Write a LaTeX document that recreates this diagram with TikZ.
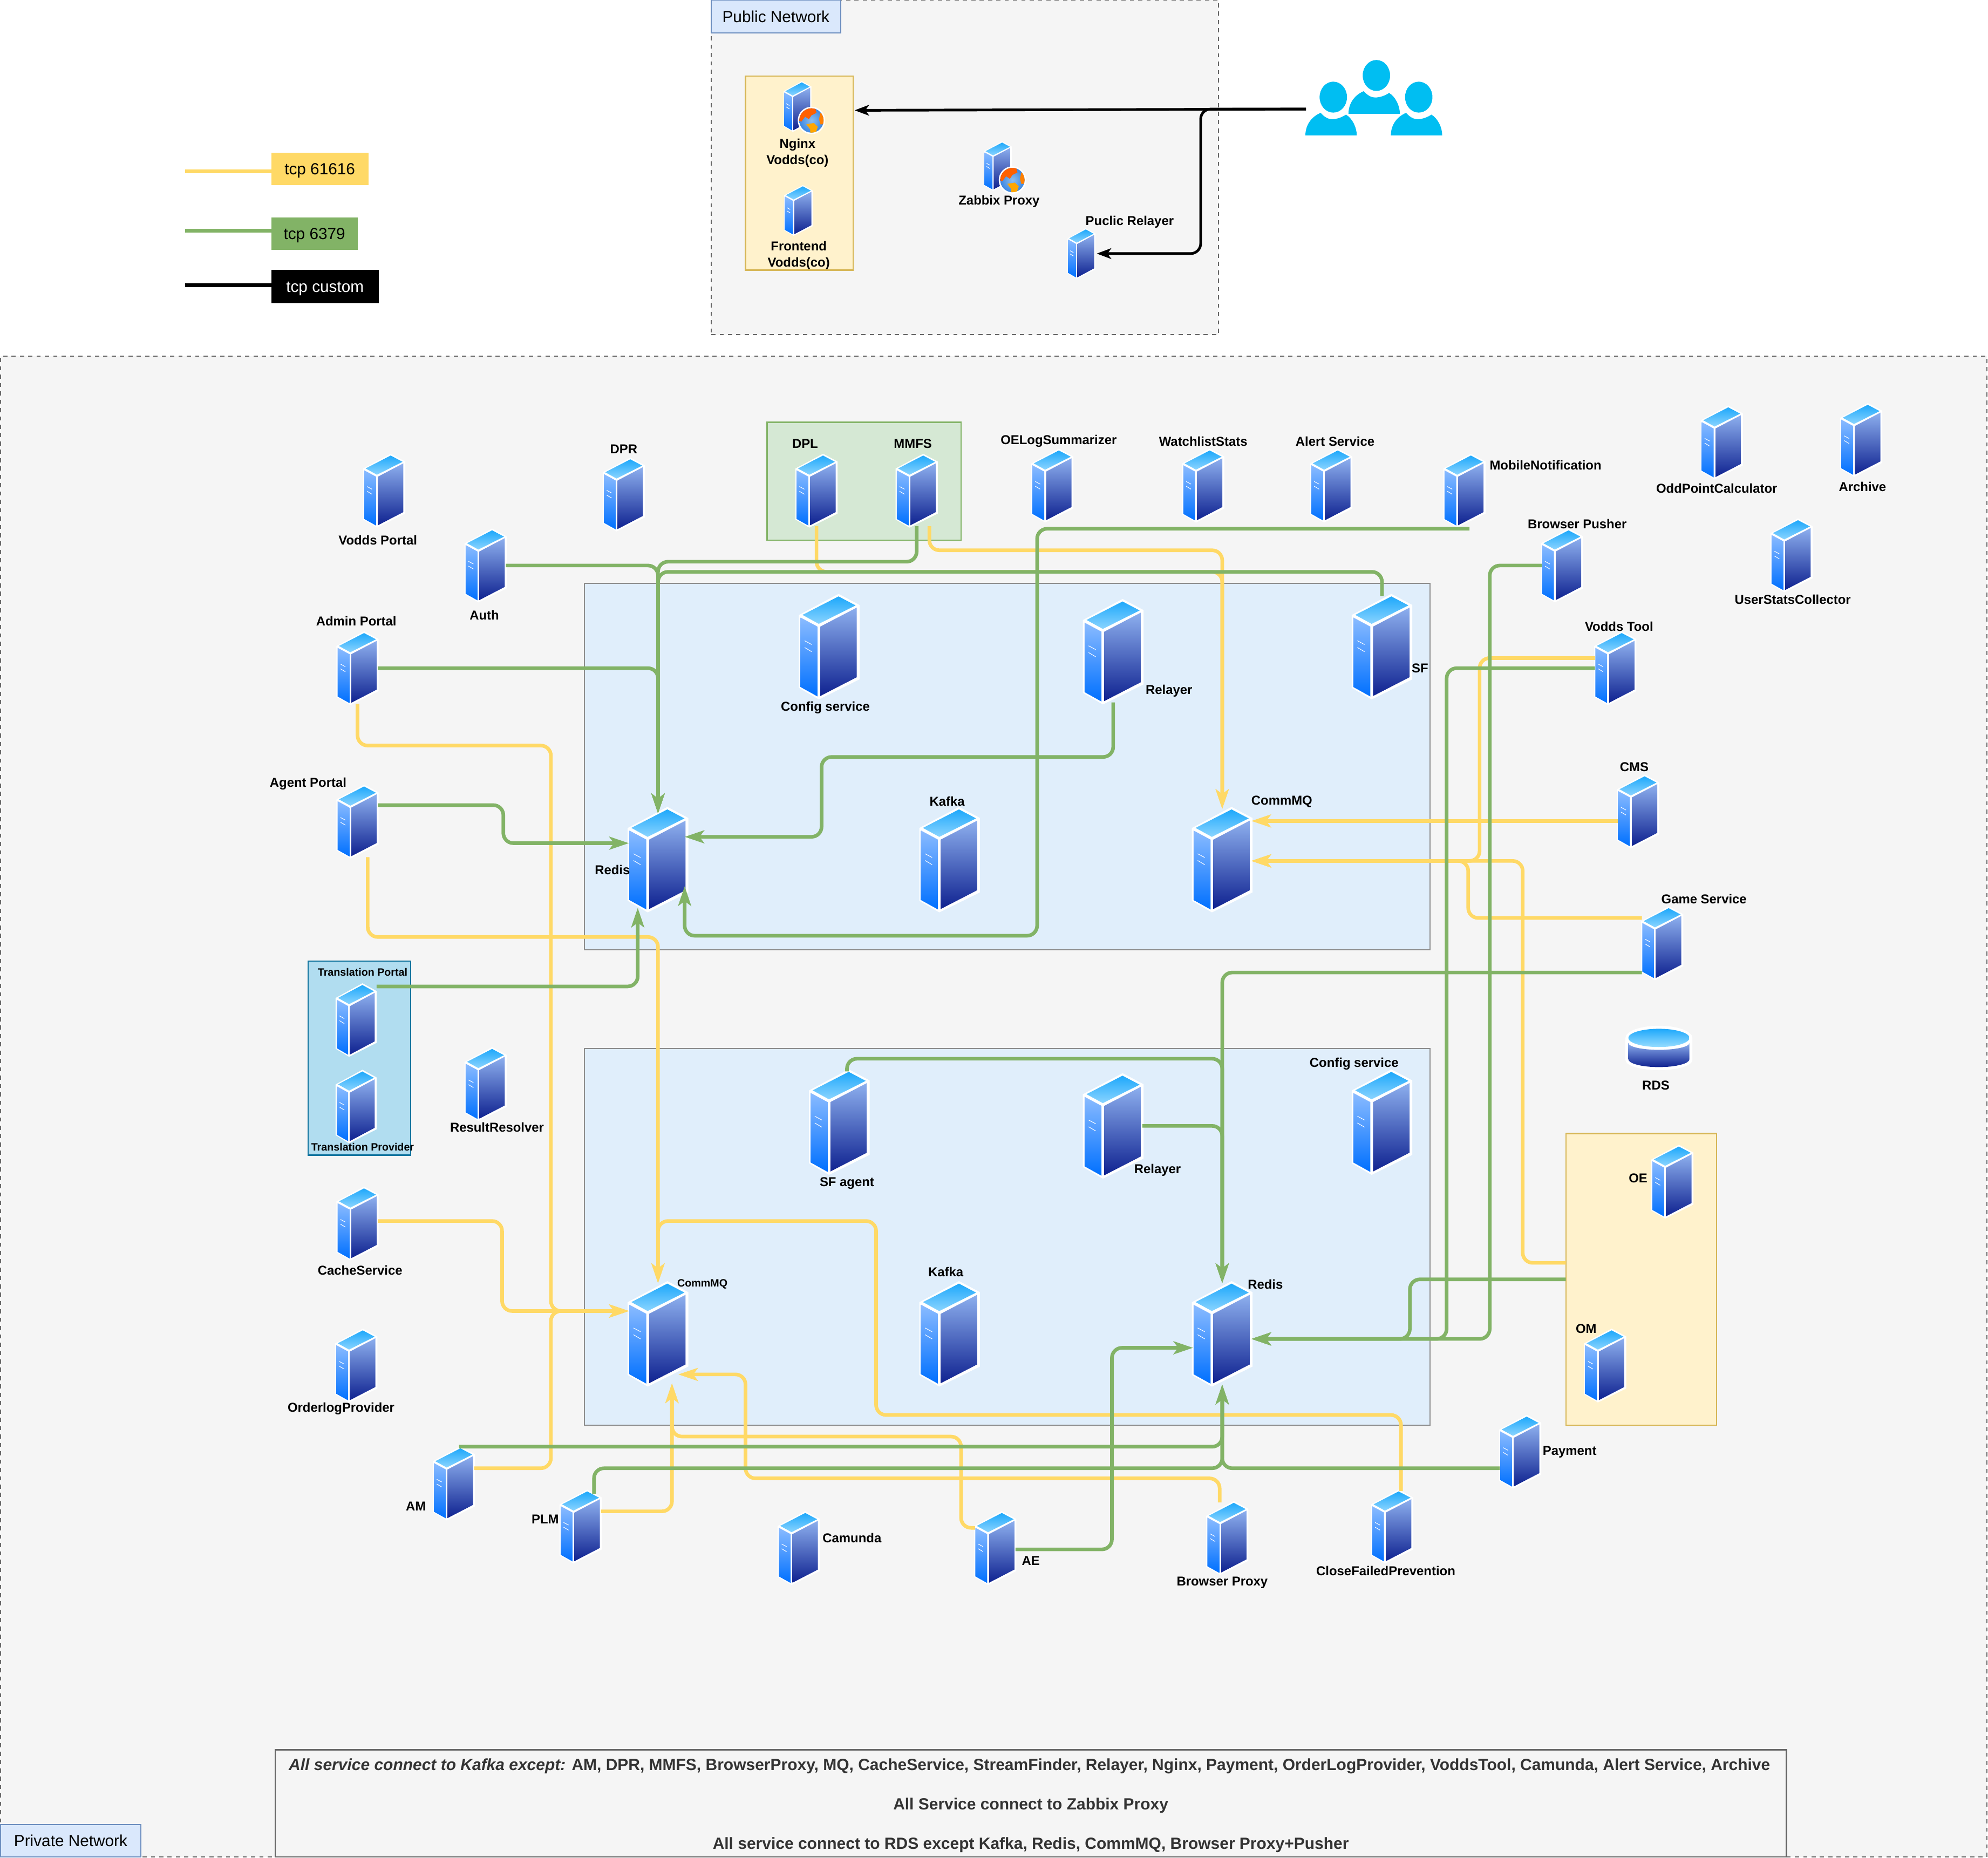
\documentclass[tikz,border=0pt]{standalone}
\usepackage{fontspec}
\setmainfont{Liberation Sans}
\usetikzlibrary{arrows.meta}
\definecolor{cY}{HTML}{FFD966}
\definecolor{cG}{HTML}{82B366}
\definecolor{cUser}{HTML}{00BEF2}
\tikzset{
  svrhit/.style={inner sep=0pt,outer sep=0pt},
  lbl/.style={inner sep=0pt,outer sep=0pt,yshift=-0.7pt,align=center,font=\fontsize{6.8}{8.6}\selectfont\bfseries},
  lblsmall/.style={inner sep=0pt,outer sep=0pt,yshift=-0.4pt,align=center,font=\fontsize{5.6}{7}\selectfont\bfseries},
  notetxt/.style={inner sep=0pt,outer sep=0pt,text=black!80,font=\fontsize{8.53}{10}\selectfont\bfseries},
  bx/.style={inner sep=0pt,outer sep=0pt,anchor=north west,line width=0.65pt},
  netbox/.style={bx,draw=black!60,fill=black!4,dash pattern=on 2.2pt off 2.2pt},
  netlabel/.style={bx,draw={rgb,255:red,108;green,142;blue,191},fill={rgb,255:red,218;green,232;blue,252},font=\fontsize{8.47}{10}\selectfont},
  ygroup/.style={bx,draw={rgb,255:red,214;green,182;blue,86},fill={rgb,255:red,255;green,242;blue,204}},
  ggroup/.style={bx,draw=cG,fill={rgb,255:red,213;green,232;blue,212}},
  tgroup/.style={bx,draw={rgb,255:red,16;green,115;blue,158},fill={rgb,255:red,177;green,221;blue,240}},
  dc/.style={bx,draw=black!45,fill={rgb,255:red,224;green,238;blue,251}},
  notebox/.style={bx,draw=black!60},
  lgbox/.style={bx,text height=7.9pt,text depth=1.8pt,font=\fontsize{8.47}{10}\selectfont},
  link/.style={line width=1.9pt,rounded corners=5.3pt,-{Stealth[length=10.3pt,width=6.8pt,inset=2.5pt]}},
  yl/.style={link,draw=cY},
  gl/.style={link,draw=cG},
  bl/.style={line width=1.4pt,draw=black,rounded corners=5.3pt,-{Stealth[length=7.6pt,width=5.6pt,inset=2pt]}},
  lgline/.style={line width=1.9pt},
}
% container / box node given by corners
\newcommand\boxn[7][]{%
  \node[#3,minimum width={(#6-#4)*0.66849pt},minimum height={(#7-#5)*0.66849pt},#1] (#2) at (#4,#5) {};}
\newcommand\boxt[8][]{%
  \node[#3,minimum width={(#6-#4)*0.66849pt},minimum height={(#7-#5)*0.66849pt},#1] (#2) at (#4,#5) {#8};}
% server icon: name, left, top, width, height (\srvk scales the drawing about its centre)
\def\srvk{1}
\newcommand\srv[5]{%
  \pgfmathsetlengthmacro\sx{#4*\srvk*0.66849pt}%
  \pgfmathsetlengthmacro\sy{#5*\srvk*0.66849pt}%
  \pgfmathsetmacro\sl{#2-#4*(\srvk-1)/2}%
  \pgfmathsetmacro\st{#3-#5*(\srvk-1)/2}%
  \begin{scope}[shift={(\sl,\st)},x=\sx,y=-\sy]
    \fill[white] (0,0.2)--(0.655,0)--(1,0.105)--(1,0.81)--(0.33,1)--(0,0.89)--cycle;
    \shade[top color={rgb,255:red,30;green,168;blue,251},bottom color={rgb,255:red,138;green,212;blue,255}]
      (0.06,0.199)--(0.654,0.024)--(0.936,0.109)--(0.329,0.284)--cycle;
    \shade[top color={rgb,255:red,138;green,187;blue,255},bottom color={rgb,255:red,0;green,112;blue,255}]
      (0.028,0.224)--(0.307,0.31)--(0.307,0.972)--(0.028,0.883)--cycle;
    \shade[top color={rgb,255:red,141;green,175;blue,238},bottom color={rgb,255:red,15;green,34;blue,144}]
      (0.353,0.31)--(0.954,0.13)--(0.954,0.79)--(0.353,0.968)--cycle;
    \draw[white,line width=0.3pt] (0.095,0.444)--(0.212,0.48) (0.095,0.508)--(0.212,0.548);
  \end{scope}%
  \node[svrhit,minimum width={#4*0.66849pt},minimum height={#5*0.66849pt}] (#1) at ({#2+#4/2},{#3+#5/2}) {};}
\newcommand\srvs[3]{\def\srvk{1.04}\srv{#1}{#2}{#3}{32}{56}\def\srvk{1}}
\newcommand\bigsrv[3]{\def\srvk{1.04}\srv{#1}{#2}{#3}{46}{80}\def\srvk{1}}
% globe: centre
\newcommand\globe[2]{%
  \begin{scope}[shift={(#1,#2)}]
    \fill[white] (0,0) circle[radius=10.8];
    \begin{scope}
      \clip (0,0) circle[radius=9.6];
      \shade[inner color={rgb,255:red,140;green,190;blue,240},outer color={rgb,255:red,60;green,135;blue,225}] (0,0) circle[radius=9.6];
      \fill[orange!75!red] (-10,-10) -- (3,-10) -- (4,-6) -- (0,-4) -- (-2,-1) -- (-5,-3) -- (-8,1) -- (-10,0) -- cycle;
      \fill[orange] (7,-6) -- (11,-6) -- (11,3) -- (7,3) -- (6,-1) -- cycle;
      \fill[orange!70!yellow] (-4,3) -- (2,2) -- (5,5) -- (3,11) -- (-1,11) -- (-1,7) -- cycle;
    \end{scope}
  \end{scope}}
% person icon: left, top
\newcommand\person[2]{%
  \begin{scope}[shift={(#1,#2)}]
    \fill[cUser] (22,12.2) ellipse[x radius=10.8,y radius=12.2];
    \fill[cUser] (0,42.4) .. controls (0,35) and (4,28) .. (12,24.6)
       .. controls (15,28) and (18,29.6) .. (21,29.6)
       .. controls (25,29.6) and (29,28) .. (32,26)
       .. controls (37,29) and (40.5,36) .. (40.5,42.4) -- cycle;
  \end{scope}}
\newcommand\lab[4]{\node[lbl] (#1) at (#2,#3) {#4};}
\begin{document}
\begin{tikzpicture}[x=0.66849pt,y=-0.66849pt]
\useasboundingbox (0,0) rectangle (1568,1465);
\fill[white] (0,0) rectangle (1568,1465);
% containers
\boxn{pub}{netbox}{561}{0}{961}{264}
\boxt{publab}{netlabel}{561}{0}{663}{26}{Public Network}
\boxn{yfront}{ygroup}{588}{60}{673}{213}
\boxn{priv}{netbox}{0.5}{281}{1567}{1464.5}
\boxn{gmm}{ggroup}{605}{333}{758}{426}
\boxn{dctop}{dc}{461}{460}{1128}{749}
\boxn{dcbot}{dc}{461}{827}{1128}{1124}
\boxn{trans}{tgroup}{243}{758}{324}{911}
\boxn{ybox}{ygroup}{1235}{894}{1354}{1124}
\boxn{note}{notebox}{217}{1380}{1409}{1464.5}
\boxt{privlab}{netlabel}{0.5}{1439}{111}{1464.5}{Private Network}
% legend
\boxt{lgY}{lgbox,fill=cY}{214}{120.5}{290.5}{146}{tcp 61616}
\boxt{lgG}{lgbox,fill=cG}{214}{171.7}{282}{197}{tcp 6379}
\boxt{lgB}{lgbox,fill=black,text=white}{214}{213}{298.7}{239}{tcp custom}
\coordinate (lY) at (146,135);
\coordinate (lG) at (146,182);
\coordinate (lB) at (146,225);
\draw[lgline,cY] (lY) -- (lgY.west |- lY);
\draw[lgline,cG] (lG) -- (lgG.west |- lG);
\draw[lgline,black] (lB) -- (lgB.west |- lB);
% users
\person{1029.6}{64.4}
\person{1097}{64.4}
\person{1063.6}{47.3}
\node[svrhit,minimum width={108*0.66849pt},minimum height={60*0.66849pt}] (users) at (1084,77) {};
% public servers
\srv{nginx}{618}{64}{22}{40}\globe{640}{95}
\srv{front}{618.5}{146}{22.5}{40}
\srv{zabbix}{776}{111.5}{22}{39}\globe{798.5}{142}
\srv{prel}{842}{180}{22}{40}
% private servers
\srvs{vportal}{287}{359}
\srvs{dpr}{476}{362}
\srvs{dpl}{628}{359}
\srvs{mmfs}{707}{359}
\srvs{oels}{814}{355}
\srvs{wstats}{933}{355}
\srvs{alert}{1034}{355}
\srvs{mobile}{1139}{359}
\srvs{odd}{1342}{321}
\srvs{arch}{1452}{319}
\srvs{ustats}{1397}{410}
\srvs{bpush}{1216}{418}
\srvs{vtool}{1258}{499}
\srvs{cms}{1276}{612}
\srvs{game}{1295}{716}
\srvs{auth}{367}{418}
\srvs{admin}{266}{499}
\srvs{agent}{266}{620}
\srv{tportal}{264.7}{775.5}{32.3}{58}
\srv{tprov}{264.7}{843.7}{32.3}{58}
\srvs{result}{367}{827}
\srvs{cache}{266}{937}
\srvs{olog}{265}{1049}
\srvs{am}{342}{1142}
\srvs{plm}{442}{1176}
\srvs{camunda}{614}{1193}
\srvs{ae}{769}{1193}
\srvs{bproxy}{952}{1185}
\srvs{cfp}{1082}{1176}
\srvs{pay}{1183}{1117}
\srvs{oe}{1303}{904}
\srvs{om}{1250}{1049}
\bigsrv{cfgtop}{631}{470}
\bigsrv{reltop}{855}{474}
\bigsrv{sf}{1067}{470}
\bigsrv{redtop}{496}{638}
\bigsrv{kaftop}{726}{638}
\bigsrv{mqtop}{941}{638}
\bigsrv{sfag}{639}{845}
\bigsrv{relbot}{855}{848}
\bigsrv{cfgbot}{1067}{845}
\bigsrv{mqbot}{496}{1012}
\bigsrv{kafbot}{726}{1012}
\bigsrv{redbot}{941}{1012}
% RDS
\node[svrhit,minimum width={52*0.66849pt},minimum height={35*0.66849pt}] (rds) at (1308.4,826.5) {};
\fill[white] (1282,818.6) arc[start angle=180,end angle=360,x radius=26.4,y radius=9.6] -- (1334.8,836) arc[start angle=0,end angle=180,x radius=26.4,y radius=8] -- cycle;
\shade[top color={rgb,255:red,141;green,175;blue,238},bottom color={rgb,255:red,15;green,34;blue,144}]
  (1284.3,822.6) arc[start angle=180,end angle=0,x radius=24.1,y radius=5.4] -- (1332.5,835.4) arc[start angle=0,end angle=180,x radius=24.1,y radius=6.2] -- cycle;
\shade[top color={rgb,255:red,30;green,168;blue,251},bottom color={rgb,255:red,150;green,220;blue,255}]
  (1308.4,818.6) ellipse[x radius=24.1,y radius=7.2];
% labels
\lab{tnginx}{629}{119.5}{Nginx\\Vodds(co)}
\lab{tfront}{630}{200.5}{Frontend\\Vodds(co)}
\lab{tzab}{788}{158}{Zabbix Proxy}
\lab{tprel}{891}{174}{Puclic Relayer}
\lab{tvp}{298}{425}{Vodds Portal}
\lab{tdpr}{492}{353}{DPR}
\lab{tdpl}{635}{349}{DPL}
\lab{tmmfs}{720}{349}{MMFS}
\lab{toels}{835}{347}{OELogSummarizer}
\lab{twst}{949}{347}{WatchlistStats}
\lab{talert}{1053}{347}{Alert Service}
\lab{tmob}{1219}{366}{MobileNotification}
\lab{todd}{1354}{384}{OddPointCalculator}
\lab{tarch}{1469}{383}{Archive}
\lab{tust}{1414}{472}{UserStatsCollector}
\lab{tbp}{1244}{412}{Browser Pusher}
\lab{tvt}{1277}{493}{Vodds Tool}
\lab{tcms}{1289}{604}{CMS}
\lab{tgame}{1344}{708}{Game Service}
\lab{tauth}{382}{484}{Auth}
\lab{tadm}{281}{489}{Admin Portal}
\lab{tagt}{243}{617}{Agent Portal}
\node[lblsmall] (ttp) at (286,766) {Translation Portal};
\node[lblsmall] (ttv) at (286,904) {Translation Provider};
\lab{tres}{392}{888}{ResultResolver}
\lab{tcache}{284}{1001}{CacheService}
\lab{tolog}{269}{1110}{OrderlogProvider}
\lab{tam}{328}{1187}{AM}
\lab{tplm}{430}{1197}{PLM}
\lab{tcam}{672}{1212}{Camunda}
\lab{tae}{813}{1230}{AE}
\lab{tbpx}{964}{1247}{Browser Proxy}
\lab{tcfp}{1093}{1238}{CloseFailedPrevention}
\lab{tpay}{1238}{1144}{Payment}
\lab{toe}{1292}{928}{OE}
\lab{tom}{1251}{1047}{OM}
\lab{tcfg1}{651}{557}{Config service}
\lab{trel1}{922}{544}{Relayer}
\lab{tsf}{1120}{526}{SF}
\lab{tred1}{483}{685}{Redis}
\lab{tkaf1}{747}{631}{Kafka}
\lab{tmq1}{1011}{631}{CommMQ}
\lab{tsfa}{668}{932}{SF agent}
\lab{trel2}{913}{922}{Relayer}
\lab{tcfg2}{1068}{838}{Config service}
\node[lblsmall] (tmq2) at (554,1012) {CommMQ};
\lab{tkaf2}{746}{1002}{Kafka}
\lab{tred2}{998}{1012}{Redis}
\lab{trds}{1306}{855}{RDS}
% note
\node[notetxt] (n1) at (812,1393) {\textit{All service connect to Kafka except:} AM, DPR, MMFS, BrowserProxy, MQ, CacheService, StreamFinder, Relayer, Nginx, Payment, OrderLogProvider, VoddsTool, Camunda, Alert Service, Archive};
\node[notetxt] (n2) at (813,1424) {All Service connect to Zabbix Proxy};
\node[notetxt] (n3) at (813,1455) {All service connect to RDS except Kafka, Redis, CommMQ, Browser Proxy+Pusher};
% yellow links
\draw[yl] (644,0 |- dpl.south) |- (mqtop.north |- 0,451) -- (mqtop.north);
\draw[yl] (733,0 |- mmfs.south) |- (mqtop.north |- 0,434) -- (mqtop.north);
\draw[yl] (cms.west |- 0,647.5) -- (mqtop.east |- 0,647.5);
\draw[yl] (vtool.west |- 0,519) -| (1167,679) -- (mqtop.east |- 0,679);
\draw[yl] (game.west |- 0,724) -| (1158,679) -- (mqtop.east |- 0,679);
\draw[yl] (ybox.west |- 0,996) -| (1201,679) -- (mqtop.east |- 0,679);
\draw[yl] (admin.south) |- (434.5,588) |- (mqbot.west |- 0,1034);
\draw[yl] (290,0 |- agent.south) |- (mqbot.north |- 0,739) -- (mqbot.north);
\draw[yl] (cache.east |- 0,963) -| (396,1034) -- (mqbot.west |- 0,1034);
\draw[yl] (am.east |- 0,1158) -| (434.5,1034) -- (mqbot.west |- 0,1034);
\draw[yl] (plm.east |- 0,1192) -| (530,1091);
\draw[yl] (ae.west |- 0,1205) -| (758,1133) -| (530,1091);
\draw[yl] (962,0 |- bproxy.north) |- (588,1166) |- (535,1084);
\draw[yl] (1105,0 |- cfp.north) |- (691,1116) |- (mqbot.north |- 0,963) -- (mqbot.north);
% green links
\coordinate (redin) at (redtop.north |- 0,641.5);
\draw[gl] (mmfs.south) |- (redin |- 0,443) -- (redin);
\draw[gl] (auth.east) -| (redin);
\draw[gl] (sf.north) |- (redin |- 0,451) -- (redin);
\draw[gl] (admin.east) -| (redin);
\draw[gl] (reltop.south) |- (648,597) |- (540,660);
\draw[gl] (agent.east |- 0,635) -| (397,665) -- (redtop.west |- 0,665);
\draw[gl] (tportal.east |- 0,778) -| (503,716);
\draw[gl] ([shift={(4,2)}]mobile.south) -| (818,738) -| (540,699);
\draw[gl] (bpush.west) -| (1175,1056) -- (redbot.east |- 0,1056);
\draw[gl] (vtool.west |- 0,527) -| (1141,1056) -- (redbot.east |- 0,1056);
\draw[gl] (ybox.west |- 0,1009) -| (1112,1056) -- (redbot.east |- 0,1056);
\draw[gl] (game.west |- 0,767) -| (redbot.north);
\draw[gl] (668,0 |- sfag.north) |- (redbot.north |- 0,835) -- (redbot.north);
\draw[gl] (relbot.east) -| (redbot.north);
\draw[gl] (ae.east |- 0,1222) -| (877,1063) -- (redbot.west |- 0,1063);
\draw[gl] ([shift={(4,-1)}]am.north) -- (redbot.south |- 0,1141) -- (redbot.south);
\draw[gl] ([shift={(10.5,2)}]plm.north) |- (redbot.south |- 0,1158) -- (redbot.south);
\draw[gl] (pay.west |- 0,1158) -| (redbot.south);
% black links
\draw[bl] (users.west |- 0,86) -- ([xshift=0.7pt]yfront.east |- 0,87);
\draw[bl] (users.west |- 0,86) -| (947,200) -- ([xshift=0.7pt]prel.east |- 0,200);
\end{tikzpicture}
\end{document}
